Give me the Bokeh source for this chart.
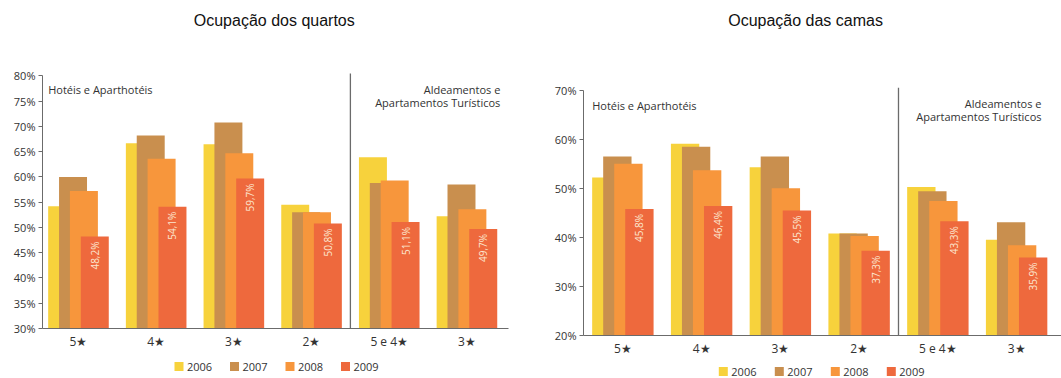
from math import pi

from bokeh.plotting import figure
from bokeh.models import (Range1d, FixedTicker, PrintfTickFormatter, Label,
                          ColumnDataSource)
from bokeh.layouts import column
from bokeh.embed import file_html
from bokeh.resources import INLINE
from bokeh.core.properties import value

# ---- data -------------------------------------------------------------
categories = ["5★", "4★", "3★", "2★", "5 e 4★", "3★"]
years = ["2006", "2007", "2008", "2009"]

# Ocupação dos quartos (%)
quartos_2006 = [54.2, 66.7, 66.5, 54.5, 63.9, 52.2]
quartos_2007 = [60.0, 68.2, 70.8, 53.0, 58.8, 58.5]
quartos_2008 = [57.2, 63.6, 64.7, 53.0, 59.3, 53.6]
quartos_2009 = [48.2, 54.1, 59.7, 50.8, 51.1, 49.7]

# Ocupação das camas (%)
camas_2006 = [52.2, 59.1, 54.3, 40.8, 50.3, 39.5]
camas_2007 = [56.5, 58.5, 56.5, 40.8, 49.4, 43.1]
camas_2008 = [55.0, 53.7, 50.0, 40.3, 47.4, 38.4]
camas_2009 = [45.8, 46.4, 45.5, 37.3, 43.3, 35.9]

# ---- styling ----------------------------------------------------------
COLORS = ["#F7D23C", "#C98F4E", "#F7963C", "#EE693D"]
OFFSETS = [-0.21, -0.07, 0.07, 0.21]
BAR_W = 0.36
SANS = "Open Sans"
TEXT = "#333333"
AXIS = "#6b6b6b"

# the two panels sit side by side as separate roots
PAGE_CSS = """
{% block postamble %}
<style>
  html, body { margin: 0; padding: 0; }
  body { display: flex; flex-direction: row; align-items: flex-start; }
</style>
{% endblock %}
"""


def pct(v):
    return f"{v:.1f}".replace(".", ",") + "%"


def make_chart(title, series, y_lo, y_hi, y_step, y_top, width, height,
               border_left, border_right, border_bottom, x_lo, x_hi,
               title_xy, hotel_xy, aldea_xy, aldea_dy):
    p = figure(width=width, height=height, output_backend="svg",
               toolbar_location=None, tools="",
               x_range=Range1d(x_lo, x_hi), y_range=Range1d(y_lo, y_top),
               min_border_left=border_left, min_border_right=border_right,
               min_border_top=0, min_border_bottom=border_bottom)
    p.outline_line_color = None
    p.grid.grid_line_color = None

    idx = list(range(len(categories)))
    for k, vals in enumerate(series):
        src = ColumnDataSource(dict(x=[i + OFFSETS[k] for i in idx], top=vals))
        p.vbar(x="x", top="top", bottom=y_lo, width=BAR_W, source=src,
               fill_color=COLORS[k], line_color=None)

    # value labels inside the 2009 bars
    last = series[-1]
    lab_src = ColumnDataSource(dict(x=[i + OFFSETS[-1] for i in idx], y=last,
                                    t=[pct(v) for v in last]))
    p.text(x="x", y="y", text="t", source=lab_src, angle=pi / 2,
           text_align="right", text_baseline="middle", y_offset=5,
           text_font=value(SANS), text_font_size="10px", text_color="#FCE6CF")

    # divider between hotels and tourist apartments
    p.segment(x0=[3.5], y0=[y_lo - 0.8], x1=[3.5], y1=[y_hi + 0.5],
              line_color=AXIS, line_width=1.3)

    yax = p.yaxis[0]
    yax.bounds = (y_lo, y_hi)
    yax.ticker = FixedTicker(ticks=list(range(y_lo, y_hi + 1, y_step)))
    yax.formatter = PrintfTickFormatter(format="%d%%")
    yax.major_label_text_font = SANS
    yax.major_label_text_font_size = "11px"
    yax.major_label_text_color = TEXT
    yax.axis_line_color = AXIS
    yax.major_tick_line_color = AXIS
    yax.major_tick_out = 4
    yax.major_tick_in = 0
    yax.minor_tick_line_color = None
    yax.minor_tick_out = 0
    yax.major_label_standoff = 3

    xax = p.xaxis[0]
    xax.ticker = FixedTicker(ticks=idx)
    xax.major_label_overrides = {i: c for i, c in enumerate(categories)}
    xax.major_label_text_font = SANS
    xax.major_label_text_font_size = "12px"
    xax.major_label_text_color = TEXT
    xax.axis_line_color = AXIS
    xax.major_tick_line_color = None
    xax.minor_tick_line_color = None
    xax.major_tick_out = 0
    xax.major_tick_in = 0
    xax.minor_tick_out = 0
    xax.minor_tick_in = 0
    xax.major_label_standoff = 4

    # headings
    p.add_layout(Label(x=title_xy[0], y=title_xy[1], text=title,
                       text_align="center", text_baseline="middle",
                       text_font="Liberation Sans", text_font_size="16px",
                       text_color="#111111"))
    p.add_layout(Label(x=hotel_xy[0], y=hotel_xy[1], text="Hotéis e Aparthotéis",
                       text_align="left", text_baseline="middle",
                       text_font=SANS, text_font_size="11px", text_color=TEXT))
    for j, line in enumerate(["Aldeamentos e", "Apartamentos Turísticos"]):
        p.add_layout(Label(x=aldea_xy[0], y=aldea_xy[1] - j * aldea_dy,
                           text=line, text_align="right",
                           text_baseline="middle", text_font=SANS,
                           text_font_size="11px", text_color=TEXT))
    return p


def make_legend(width, height, border_left, border_right, first_x, step,
                y_from_top):
    # a strip of colour keys, one per year, under each chart
    lg = figure(width=width, height=height, output_backend="svg",
                toolbar_location=None, tools="",
                x_range=Range1d(border_left, width - border_right),
                y_range=Range1d(0, height),
                x_axis_location=None, y_axis_location=None,
                min_border_left=border_left, min_border_right=border_right,
                min_border_top=0, min_border_bottom=0)
    lg.outline_line_color = None
    lg.grid.grid_line_color = None
    xs = [first_x + k * step for k in range(len(years))]
    ys = [height - y_from_top] * len(years)
    src = ColumnDataSource(dict(x=xs, tx=[x + 8 for x in xs], y=ys,
                                c=COLORS, t=years))
    lg.rect(x="x", y="y", width=9, height=9, width_units="screen",
            height_units="screen", fill_color="c", line_color=None, source=src)
    lg.text(x="tx", y="y", text="t", source=src, text_align="left",
            text_baseline="middle", text_font=value(SANS),
            text_font_size="11px", text_color=TEXT)
    return lg


LEFT_H, RIGHT_H = 352, 359

left = make_chart("Ocupação dos quartos",
                  [quartos_2006, quartos_2007, quartos_2008, quartos_2009],
                  30, 80, 5, 94.94, 530, LEFT_H, 42, 22, LEFT_H - 329,
                  -0.463, 5.535,
                  title_xy=(2.52, 91.0), hotel_xy=(-0.39, 77.4),
                  aldea_xy=(5.43, 77.4), aldea_dy=2.6)

right = make_chart("Ocupação das camas",
                   [camas_2006, camas_2007, camas_2008, camas_2009],
                   20, 70, 10, 88.30, 531, RIGHT_H, 53, 0, RIGHT_H - 337,
                   -0.5, 5.57,
                   title_xy=(2.32, 84.25), hotel_xy=(-0.39, 66.8),
                   aldea_xy=(5.316, 67.2), aldea_dy=2.65)

left_legend = make_legend(530, 378 - LEFT_H, 42, 22, 178.5, 55.5, 366 - LEFT_H)
right_legend = make_legend(531, 378 - RIGHT_H, 53, 0, 192.8, 56.0,
                           371 - RIGHT_H)

left_panel = column(left, left_legend, spacing=0)
right_panel = column(right, right_legend, spacing=0)

with open("out.html", "w") as f:
    f.write(file_html([left_panel, right_panel], INLINE, template=PAGE_CSS))
